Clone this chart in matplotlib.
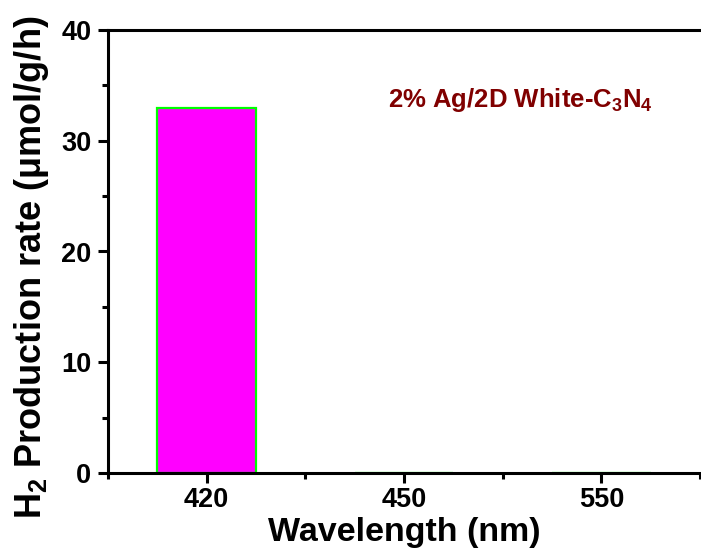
import matplotlib
matplotlib.use("Agg")
import matplotlib.pyplot as plt
from matplotlib.ticker import MultipleLocator, FixedLocator

categories = ["420", "450", "550"]
values = [33.0, 0.0, 0.0]

fam = ["Liberation Sans", "DejaVu Sans"]
plt.rcParams["font.family"] = fam
plt.rcParams["font.weight"] = "bold"
plt.rcParams["mathtext.default"] = "regular"

fig = plt.figure(figsize=(7.01, 5.54), dpi=100)
ax = fig.add_axes([108/701, 1-473/554, 592/701, 443/554])

pos = list(range(1, len(categories)+1))
ax.bar(pos, values, width=0.5, color="#FF00FF", edgecolor="#00FF00", linewidth=1.6)

ax.set_xlim(0.5, 3.5)
ax.set_ylim(0, 40)
ax.set_xticks(pos)
ax.set_xticklabels(categories)
ax.xaxis.set_minor_locator(FixedLocator([0.5, 1.5, 2.5, 3.5]))
ax.yaxis.set_major_locator(MultipleLocator(10))
ax.yaxis.set_minor_locator(MultipleLocator(5))

for s in ["left", "bottom", "top"]:
    ax.spines[s].set_linewidth(2.2)
ax.spines["right"].set_visible(False)

ax.tick_params(axis="both", which="major", direction="out", length=7, width=2.2,
               labelsize=19.5, pad=3)
ax.tick_params(axis="y", which="major", pad=5)
ax.tick_params(axis="both", which="minor", direction="out", length=4, width=2.2)
ax.tick_params(top=False, right=False, which="both")
for lab in ax.get_xticklabels() + ax.get_yticklabels():
    lab.set_fontweight("bold")

ax.set_xlabel("Wavelength (nm)", fontsize=24.5, fontweight="bold", labelpad=3)
ax.set_ylabel(r"H$_2$ Production rate ($\mu$mol/g/h)", fontsize=26, fontweight="bold", labelpad=7)
ax.yaxis.label.set_y(0.465)

ax.text(0.4738, 0.826, r"2% Ag/2D White-C$_3$N$_4$", transform=ax.transAxes,
        fontsize=18.5, fontweight="bold", color="#800000", va="baseline", ha="left")

fig.savefig("out.png", dpi=100)
